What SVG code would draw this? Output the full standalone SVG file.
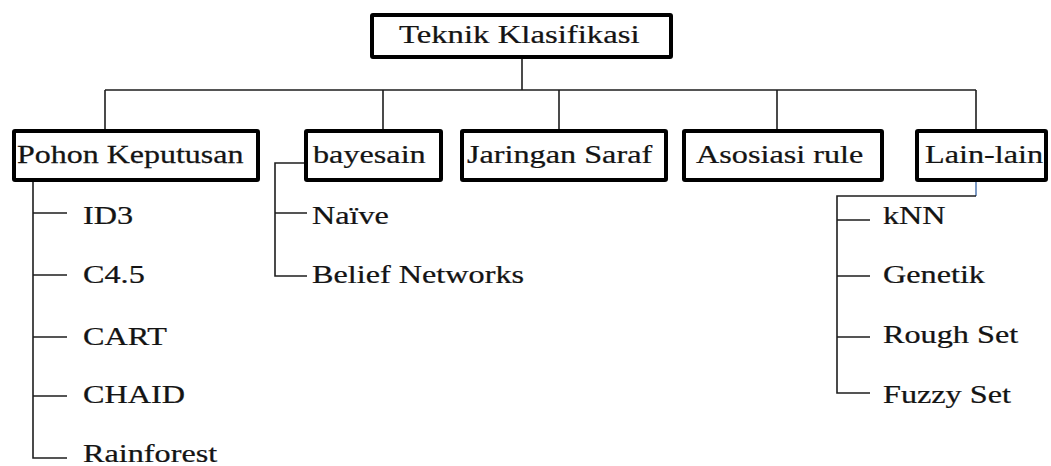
<svg xmlns="http://www.w3.org/2000/svg" width="1051" height="466" viewBox="0 0 1051 466">
  <style>
    .box { fill: #ffffff; stroke: #000000; stroke-width: 4; }
    .lbl { font-family: "Liberation Serif", "Times New Roman", serif; font-size: 26px; fill: #141414; stroke: #141414; stroke-width: 0.25; }
    .wire { fill: none; stroke: #1e1e1e; stroke-width: 1.6; }
    .wire-blue { fill: none; stroke: #5a7fb5; stroke-width: 1.6; }
  </style>
  <rect width="1051" height="466" fill="#ffffff"/>

  <!-- connectors -->
  <g id="connectors">
    <path class="wire" d="M522 57 V90 M105 90 H976 M105 90 V131 M383 90 V131 M559 90 V131 M777 90 V131 M976 90 V131"/>
    <!-- Pohon Keputusan children -->
    <path class="wire" d="M33 180 V458 H67 M33 213 H67 M33 275 H67 M33 337 H67 M33 396 H67"/>
    <!-- bayesain children -->
    <path class="wire" d="M306 163 H275 V276 H307 M275 213 H307"/>
    <!-- Lain-lain children -->
    <path class="wire-blue" d="M976 180 V196"/>
    <path class="wire" d="M976 196 H837 V393 H870 M837 220 H870 M837 276 H870 M837 337 H870"/>
  </g>

  <!-- labels are drawn widened horizontally -->
  <g id="root">
    <rect class="box" x="372" y="15" width="299" height="42" rx="1"/>
    <text class="lbl" transform="translate(399 43) scale(1.26 1)">Teknik Klasifikasi</text>
  </g>

  <g id="pohon">
    <rect class="box" x="14" y="131" width="244" height="49" rx="1"/>
    <text class="lbl" transform="translate(17 163) scale(1.23 1)">Pohon Keputusan</text>
  </g>
  <g id="bayesain">
    <rect class="box" x="306" y="131" width="135" height="49" rx="1"/>
    <text class="lbl" transform="translate(313 163) scale(1.24 1)">bayesain</text>
  </g>
  <g id="jaringan">
    <rect class="box" x="462" y="131" width="204" height="49" rx="1"/>
    <text class="lbl" transform="translate(467 163) scale(1.24 1)">Jaringan Saraf</text>
  </g>
  <g id="asosiasi">
    <rect class="box" x="684" y="131" width="198" height="49" rx="1"/>
    <text class="lbl" transform="translate(696 163) scale(1.24 1)">Asosiasi rule</text>
  </g>
  <g id="lainlain">
    <rect class="box" x="917" y="131" width="129" height="49" rx="1"/>
    <text class="lbl" transform="translate(925 163) scale(1.24 1)">Lain-lain</text>
  </g>

  <!-- leaves under Pohon Keputusan -->
  <g id="id3"><text class="lbl" transform="translate(83 224) scale(1.24 1)">ID3</text></g>
  <g id="c45"><text class="lbl" transform="translate(83 283) scale(1.24 1)">C4.5</text></g>
  <g id="cart"><text class="lbl" transform="translate(83 345) scale(1.24 1)">CART</text></g>
  <g id="chaid"><text class="lbl" transform="translate(83 403) scale(1.24 1)">CHAID</text></g>
  <g id="rainforest"><text class="lbl" transform="translate(83 462) scale(1.24 1)">Rainforest</text></g>

  <!-- leaves under bayesain -->
  <g id="naive"><text class="lbl" transform="translate(312 224) scale(1.24 1)">Naïve</text></g>
  <g id="belief"><text class="lbl" transform="translate(312 283) scale(1.24 1)">Belief Networks</text></g>

  <!-- leaves under Lain-lain -->
  <g id="knn"><text class="lbl" transform="translate(883 224) scale(1.24 1)">kNN</text></g>
  <g id="genetik"><text class="lbl" transform="translate(883 283) scale(1.24 1)">Genetik</text></g>
  <g id="roughset"><text class="lbl" transform="translate(883 343) scale(1.24 1)">Rough Set</text></g>
  <g id="fuzzyset"><text class="lbl" transform="translate(883 403) scale(1.24 1)">Fuzzy Set</text></g>
</svg>
